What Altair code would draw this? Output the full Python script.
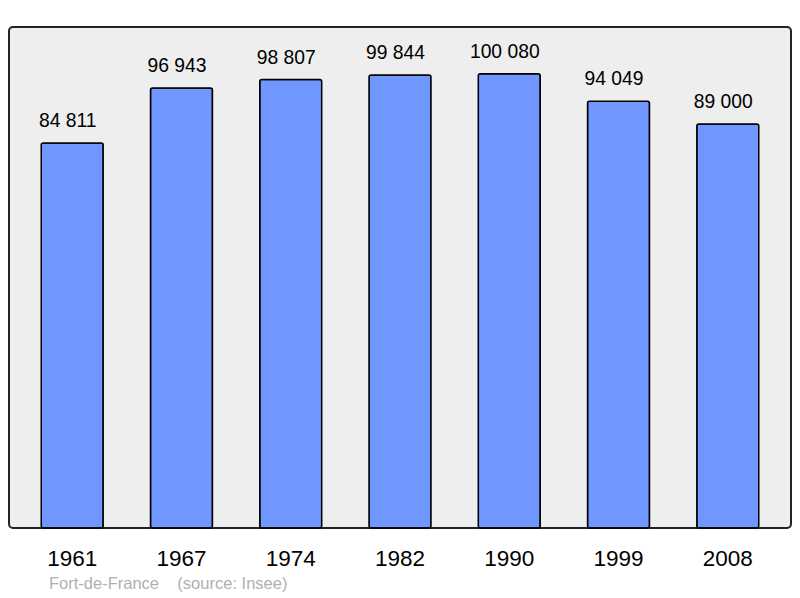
import altair as alt
import pandas as pd

years = ["1961", "1967", "1974", "1982", "1990", "1999", "2008"]
population = [84811, 96943, 98807, 99844, 100080, 94049, 89000]
labels = ["84 811", "96 943", "98 807", "99 844", "100 080", "94 049", "89 000"]

df = pd.DataFrame({"year": years, "pop": population, "label": labels})

base = alt.Chart(df).encode(
    x=alt.X("year:N", sort=years,
            scale=alt.Scale(paddingInner=0.433, paddingOuter=0.295),
            axis=alt.Axis(title=None, labelAngle=0, domain=False, ticks=False,
                          labelFontSize=22.5, labelFont="Liberation Sans",
                          labelBaseline="alphabetic",
                          labelColor="#000000", labelPadding=37)),
    y=alt.Y("pop:Q", scale=alt.Scale(domain=[0, 110400], nice=False, zero=True),
            axis=None),
)

bars = base.mark_bar(color="#7096ff", stroke="#000000", strokeWidth=1.5,
                     cornerRadius=2)
text = base.mark_text(baseline="alphabetic", dy=-16, dx=-4.5, fontSize=19.3,
                      font="Liberation Sans", color="#000000").encode(text="label:N")

chart = (bars + text).properties(
    width=782, height=501,
    autosize=alt.AutoSizeParams(type="none"),
    padding={"left": 1, "top": 19, "right": 1, "bottom": 64},
    title=alt.TitleParams(
        text="Fort-de-France\u00a0\u00a0\u00a0\u00a0(source:\u00a0Insee)",
        orient="bottom", anchor="start", dx=40, offset=19, baseline="alphabetic",
        fontSize=16.5, font="Liberation Sans", fontWeight="normal",
        color="#b0b0b0"),
).configure_view(
    fill="#eeeeee", stroke="#222222", strokeWidth=2, cornerRadius=4
)

chart.save("out.html", embed_options={"renderer": "svg", "actions": False})
